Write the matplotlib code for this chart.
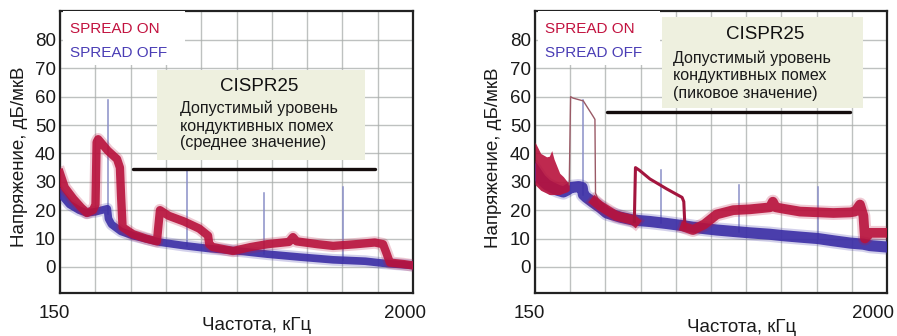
import numpy as np
import matplotlib
matplotlib.use("Agg")
import matplotlib.pyplot as plt
from matplotlib.patches import Rectangle
from matplotlib.transforms import ScaledTranslation

plt.rcParams['font.family'] = ['Liberation Sans', 'DejaVu Sans']

# ---------------- data ----------------
x_min, x_max = 150, 2000
y_ticks = [0, 10, 20, 30, 40, 50, 60, 70, 80]
x_grid = list(np.linspace(150, 2000, 11))
legend_labels = ["SPREAD ON", "SPREAD OFF"]
ylabel_text = "Напряжение, дБ/мкВ"
xlabel_text = "Частота, кГц"
box_title = "CISPR25"
box_lines_left = ["Допустимый уровень", "кондуктивных помех", "(среднее значение)"]
box_lines_right = ["Допустимый уровень", "кондуктивных помех", "(пиковое значение)"]

# left panel (average)
limit_left = (532, 1801, 34.5)
on_left_f = [150, 175, 220, 260, 291, 323, 336, 342, 350, 400, 449, 464, 470, 478, 533, 600, 658,
             665, 674, 720, 800, 880, 926, 932, 950, 1057, 1150, 1235, 1350, 1371, 1390, 1500,
             1581, 1700, 1800, 1843, 1860, 1879, 1950, 2000]
on_left_v = [33, 28, 24, 21, 19, 20, 22, 44, 45, 41, 38, 35, 25, 14, 11.5, 10, 9,
             14, 20, 18, 16, 13.5, 11, 8, 7, 5.6, 7, 8, 8.8, 10.5, 9, 8, 7.4, 8, 8.6, 8, 5,
             1.5, 1, 0.5]
off_left_f = [150, 200, 250, 291, 340, 398, 404, 420, 470, 533, 674, 800, 926, 1100, 1235,
              1400, 1581, 1750, 1843, 2000]
off_left_v = [26, 22, 20, 19, 19.5, 20.5, 17, 15, 12.5, 11, 8.7, 7.5, 6.5, 5.5, 4.5,
              3.5, 2.5, 2, 1.3, 0.5]
spike_left_f = [401, 816, 1219, 1633]
spike_left_v = [59, 34, 26, 28]

# right panel (peak)
limit_right = (528, 1806, 54.6)
on_right_env_f = [150, 180, 211, 225, 238, 250, 280, 299, 320, 330]
on_right_env_hi = [44, 40, 38.8, 39, 41, 38, 33, 31.8, 30, 30]
on_right_env_lo = [29, 27, 26, 25.5, 25.5, 25.5, 25.5, 26, 26.5, 27]
on_right_peak_f = [330, 337, 350, 404, 456, 465, 468, 492]
on_right_peak_v = [29, 60, 59.5, 58.5, 53, 52, 26, 22]
on_right_mid_f = [465, 492, 576, 667, 676]
on_right_mid_v = [23, 21.5, 18, 16.5, 16]
on_right_slope_f = [672, 678, 700, 754, 842, 923, 932, 938]
on_right_slope_v = [16, 35, 34, 31, 27.5, 24.5, 23, 14]
on_right_f = [938, 980, 1040, 1105, 1192, 1280, 1385, 1400, 1415, 1455, 1543, 1718, 1806,
              1832, 1858, 1876, 1884, 1911, 2000]
on_right_v = [14, 13, 15, 18.5, 20, 20.3, 21, 23, 21, 20.5, 19.5, 19, 19.2,
              19.5, 22, 18, 10, 12, 12]
off_right_f = [150, 180, 211, 238, 270, 299, 317, 340, 380, 398, 404, 420, 456, 492, 527, 600,
               667, 754, 842, 930, 1000, 1105, 1192, 1280, 1385, 1455, 1543, 1636, 1718, 1806,
               1876, 1911, 2000]
off_right_v = [34, 31, 29, 28, 27, 26.4, 27, 28, 28.3, 28, 25.5, 24.5, 22.7, 21, 19, 17.5,
               16.5, 16, 15.3, 14.5, 13.8, 13, 12.5, 12, 11.5, 11, 10.5, 10, 9.2, 8.4,
               8, 7.5, 7]
spike_right_f = [404, 811, 1224, 1636]
spike_right_v = [59, 34, 29, 28]

# ---------------- style ----------------
RED = "#b8123c"
RED_TXT = "#c2123f"
BLUE = "#3b2ea6"
BLUE_TXT = "#4a3db5"
SPIKE = "#8a8fc8"
BOX = "#eef0df"
GRID = "#a9adab"

fig = plt.figure(figsize=(8.97, 3.36), dpi=100)
ax_l = fig.add_axes([60 / 897, 1 - 293 / 336, 353 / 897, 282 / 336])
ax_r = fig.add_axes([535 / 897, 1 - 293 / 336, 352 / 897, 282 / 336])


def setup(ax, last_dx):
    ax.set_xlim(x_min, x_max)
    ax.set_ylim(-9.2, 90.2)
    ax.set_xticks(x_grid)
    ax.set_xticklabels(["150"] + [""] * 9 + ["2000"])
    ax.set_yticks(y_ticks)
    ax.set_yticklabels([str(v) for v in y_ticks])
    ax.tick_params(length=0, labelsize=13.5, colors="#1a1a1a")
    ax.tick_params(axis="y", pad=3)
    ax.tick_params(axis="x", pad=9)
    ax.grid(True, color=GRID, lw=1.0, alpha=0.75)
    ax.set_axisbelow(True)
    for s in ax.spines.values():
        s.set_linewidth(1.6)
        s.set_color("#222222")
    labs = ax.get_xticklabels()
    for i, lab in enumerate(labs):
        dx = -6 if i == 0 else last_dx
        off = ScaledTranslation(dx / 100, 0, fig.dpi_scale_trans)
        lab.set_transform(lab.get_transform() + off)


def spikes(ax, fs, vs, base_f, base_v):
    for f, v in zip(fs, vs):
        b = np.interp(f, base_f, base_v)
        ax.plot([f, f], [b, v], color=SPIKE, lw=1.1, zorder=2)


def band(ax, fs, vs, color, lw, z):
    ax.plot(fs, vs, color=color, lw=lw + 3, alpha=0.22,
            solid_joinstyle="round", zorder=z)
    ax.plot(fs, vs, color=color, lw=lw, alpha=0.9,
            solid_joinstyle="round", zorder=z)


def legend_and_box(ax, box_xy, box_wh, title_xy, body_x, body_ys, lines, lim):
    ax.add_patch(Rectangle((0.008, 0.81), 0.346, 0.19, transform=ax.transAxes,
                           facecolor="white", edgecolor="none", zorder=6))
    ax.text(0.028, 0.936, legend_labels[0], color=RED_TXT, fontsize=11,
            transform=ax.transAxes, va="center", ha="left", zorder=7)
    ax.text(0.028, 0.851, legend_labels[1], color=BLUE_TXT, fontsize=11,
            transform=ax.transAxes, va="center", ha="left", zorder=7)
    ax.add_patch(Rectangle(box_xy, box_wh[0], box_wh[1], transform=ax.transAxes,
                           facecolor=BOX, edgecolor="none", zorder=6))
    ax.text(title_xy[0], title_xy[1], box_title, fontsize=13.5, color="#111111",
            transform=ax.transAxes, ha="center", va="center", zorder=7)
    for y, t in zip(body_ys, lines):
        ax.text(body_x, y, t, fontsize=11.6, color="#1a1a1a", transform=ax.transAxes,
                ha="left", va="center", zorder=7)
    ax.plot([lim[0], lim[1]], [lim[2], lim[2]], color="#140c0c", lw=2.4,
            solid_capstyle="round", zorder=8)


# left panel
setup(ax_l, -8)
spikes(ax_l, spike_left_f, spike_left_v, off_left_f, off_left_v)
band(ax_l, off_left_f, off_left_v, BLUE, 5.5, 3)
band(ax_l, on_left_f, on_left_v, RED, 6, 4)
legend_and_box(ax_l, (0.275, 0.472), (0.589, 0.319), (0.564, 0.734), 0.34,
               [0.656, 0.592, 0.532], box_lines_left, limit_left)

# right panel
setup(ax_r, -14)
spikes(ax_r, spike_right_f, spike_right_v, off_right_f, off_right_v)
band(ax_r, off_right_f, off_right_v, BLUE, 8, 3)
ax_r.fill_between(on_right_env_f, on_right_env_lo, on_right_env_hi, color=RED,
                  alpha=0.9, lw=0, zorder=4)
ax_r.plot(on_right_peak_f, on_right_peak_v, color="#9a5a66", lw=1.0, zorder=4)
band(ax_r, on_right_mid_f, on_right_mid_v, RED, 7, 4)
ax_r.plot(on_right_slope_f, on_right_slope_v, color="#a3153e", lw=2.2,
          solid_joinstyle="round", zorder=4)
band(ax_r, on_right_f, on_right_v, RED, 7, 4)
legend_and_box(ax_r, (0.361, 0.656), (0.571, 0.323), (0.653, 0.915), 0.392,
               [0.833, 0.770, 0.706], box_lines_right, limit_right)

# axis labels
fig.text(20 / 897, 1 - 157 / 336, ylabel_text, rotation=90, fontsize=13.5,
         ha="center", va="center", color="#1a1a1a")
fig.text(493 / 897, 1 - 158 / 336, ylabel_text, rotation=90, fontsize=13.5,
         ha="center", va="center", color="#1a1a1a")
fig.text(257 / 897, 1 - 326 / 336, xlabel_text, fontsize=13.5,
         ha="center", va="center", color="#1a1a1a")
fig.text(742 / 897, 1 - 327 / 336, xlabel_text, fontsize=13.5,
         ha="center", va="center", color="#1a1a1a")

fig.savefig("out.png", dpi=100)
